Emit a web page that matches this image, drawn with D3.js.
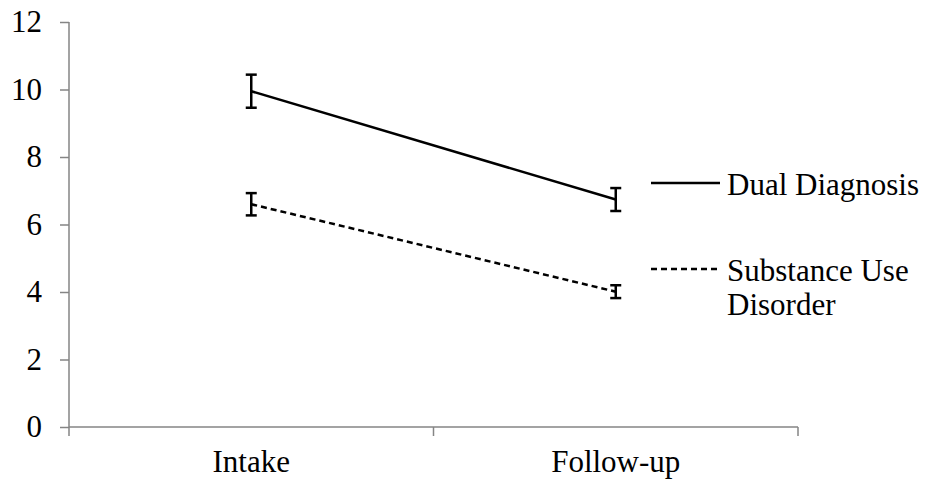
<!DOCTYPE html>
<html lang="en">
<head>
  <meta charset="UTF-8">
  <title>Dual Diagnosis vs Substance Use Disorder</title>
  <script src="https://cdnjs.cloudflare.com/ajax/libs/d3/7.8.5/d3.min.js"></script>
  <style>
    body { margin: 0; background: #fff; }
  </style>
</head>
<body>
  <div id="chart"></div>
  <script>
// data
var timepoints = ["Intake", "Follow-up"];
var seriesNames = ["Dual Diagnosis", "Substance Use Disorder"];
var dualMeans = [9.95, 6.74];
var dualErr = [0.49, 0.34];
var sudMeans = [6.60, 4.01];
var sudErr = [0.33, 0.19];
var yTicks = [0, 2, 4, 6, 8, 10, 12];

var svgWidth = 929;
var svgHeight = 490;
var font = "'Liberation Serif', 'Times New Roman', Times, serif";

var margin = { top: 22, right: 131, bottom: 63, left: 69 };

var svg = d3.select("#chart")
  .append("svg")
  .attr("width", svgWidth)
  .attr("height", svgHeight);

var x = d3.scaleBand()
  .domain(timepoints)
  .range([margin.left, svgWidth - margin.right])
  .padding(0);

var y = d3.scaleLinear()
  .domain([0, 12])
  .range([svgHeight - margin.bottom, margin.top]);

var axisColor = "#858585";

// y axis
var yAxis = svg.append("g")
  .attr("transform", `translate(${margin.left},0)`)
  .call(d3.axisLeft(y).tickValues(yTicks).tickSize(9).tickPadding(18));
yAxis.select(".domain").attr("stroke", axisColor).attr("stroke-width", 1.5)
  .attr("d", `M0,${y(12)}V${y(0)}`);
yAxis.selectAll(".tick line").attr("stroke", axisColor).attr("stroke-width", 1.5);
yAxis.selectAll(".tick text").style("font-size", "31px").style("font-family", font).attr("fill", "#000");

// x axis (labels in band centres, ticks on band edges)
var xAxis = svg.append("g")
  .attr("transform", `translate(0,${y(0)})`)
  .call(d3.axisBottom(x).tickSize(0).tickPadding(23));
xAxis.select(".domain").attr("stroke", axisColor).attr("stroke-width", 1.5)
  .attr("d", `M${margin.left},0H${svgWidth - margin.right}`);
xAxis.selectAll(".tick text").style("font-size", "31px").style("font-family", font).attr("fill", "#000");

var edges = timepoints.map(d => x(d)).concat([x(timepoints[1]) + x.bandwidth()]);
xAxis.selectAll(".edge")
  .data(edges)
  .enter()
  .append("line")
  .attr("x1", d => d).attr("x2", d => d)
  .attr("y1", 0).attr("y2", 9)
  .attr("stroke", axisColor)
  .attr("stroke-width", 1.5);

var cx = d => x(d) + x.bandwidth() / 2;

var series = [
  { name: seriesNames[0], means: dualMeans, err: dualErr, dash: null },
  { name: seriesNames[1], means: sudMeans, err: sudErr, dash: "6,4" }
];

var line = d3.line()
  .x((d, i) => cx(timepoints[i]))
  .y(d => y(d));

series.forEach(function(s) {
  svg.append("path")
    .datum(s.means)
    .attr("d", line)
    .attr("fill", "none")
    .attr("stroke", "#000")
    .attr("stroke-width", 2.5)
    .attr("stroke-dasharray", s.dash);

  var bars = svg.append("g");
  timepoints.forEach(function(t, i) {
    var px = cx(t);
    var top = y(s.means[i] + s.err[i]);
    var bot = y(s.means[i] - s.err[i]);
    bars.append("line").attr("x1", px).attr("x2", px).attr("y1", top).attr("y2", bot);
    bars.append("line").attr("x1", px - 5.5).attr("x2", px + 5.5).attr("y1", top).attr("y2", top);
    bars.append("line").attr("x1", px - 5.5).attr("x2", px + 5.5).attr("y1", bot).attr("y2", bot);
  });
  bars.selectAll("line").attr("stroke", "#000").attr("stroke-width", 2.5);
});

// legend
var legend = svg.append("g").attr("transform", "translate(651,0)");

legend.append("line")
  .attr("x1", 0).attr("x2", 69)
  .attr("y1", 183).attr("y2", 183)
  .attr("stroke", "#000").attr("stroke-width", 2.5);
legend.append("text")
  .attr("x", 76).attr("y", 195)
  .style("font-size", "31px").style("font-family", font)
  .text(seriesNames[0]);

legend.append("line")
  .attr("x1", 0).attr("x2", 69)
  .attr("y1", 269).attr("y2", 269)
  .attr("stroke", "#000").attr("stroke-width", 2.5)
  .attr("stroke-dasharray", "6,4");
var t2 = legend.append("text")
  .attr("x", 76).attr("y", 281)
  .style("font-size", "31px").style("font-family", font);
t2.append("tspan").attr("x", 76).text("Substance Use");
t2.append("tspan").attr("x", 76).attr("dy", 34).text("Disorder");
  </script>
</body>
</html>
